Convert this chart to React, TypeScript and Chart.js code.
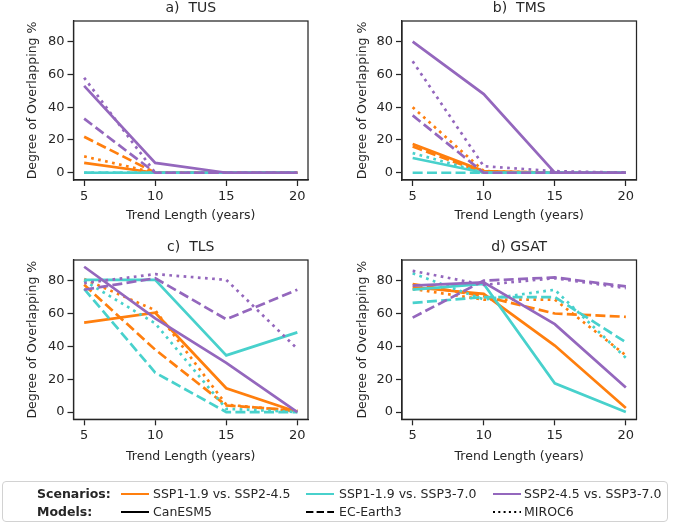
import React, { useEffect, useRef } from "react";
import { Chart, registerables } from "chart.js";

Chart.register(...registerables);

// ---- data ----
const trendLengths = [5, 10, 15, 20];
const yTickValues = [0, 20, 40, 60, 80];
const scenarioLabels = ["SSP1-1.9 vs. SSP2-4.5", "SSP1-1.9 vs. SSP3-7.0", "SSP2-4.5 vs. SSP3-7.0"];
const modelLabels = ["CanESM5", "EC-Earth3", "MIROC6"];
const scenarioColors = ["#ff7f0e", "#48d1cc", "#9467bd"];

// each row: CanESM5, EC-Earth3, MIROC6 (values at 5, 10, 15, 20 years)
const tusSsp119vs245 = [[6, 0, 0, 0], [22, 0, 0, 0], [10, 0, 0, 0]];
const tusSsp119vs370 = [[0, 0, 0, 0], [0, 0, 0, 0], [0, 0, 0, 0]];
const tusSsp245vs370 = [[53, 6, 0, 0], [33, 0, 0, 0], [58, 0, 0, 0]];

const tmsSsp119vs245 = [[17.5, 1, 0, 0], [16, 0, 0, 0], [40, 1, 0, 0]];
const tmsSsp119vs370 = [[9, 0, 0, 0], [0, 0, 0, 0], [12, 0, 0, 0]];
const tmsSsp245vs370 = [[80, 48, 0, 0], [35, 0, 0, 0], [68, 4, 1, 0]];

const tlsSsp119vs245 = [[54.5, 60.5, 14.5, 0], [77.5, 38, 4, 1], [81, 62, 4.5, 0.5]];
const tlsSsp119vs370 = [[80.5, 80.5, 34.5, 48.5], [75, 24, 0, 0], [80, 54, 2, 0]];
const tlsSsp245vs370 = [[88.5, 57, 30, 0], [74.5, 81.5, 56.5, 74.5], [78.5, 84, 80.5, 38.5]];

const gsatSsp119vs245 = [[76, 72, 40.5, 2.5], [78, 70.5, 60, 58], [75, 68.5, 68.5, 34.5]];
const gsatSsp119vs370 = [[74.5, 78, 17.5, 0], [66.5, 70, 70, 42.5], [84.5, 68.5, 74.5, 33]];
const gsatSsp245vs370 = [[77, 79, 53.5, 15], [57.5, 80, 82, 76.5], [86, 77.5, 81.5, 75.5]];

// ---- styling ----
const FONT = "DejaVu Sans";
const INK = "#262626";
const LINE_W = 2.7;
const modelDashes = [[], [10, 4.3], [2.7, 4.45]];
const legendDashes = [[], [7.4, 3.2], [2, 3.3]];

const framePlugin = {
  id: "axesFrame",
  afterDatasetsDraw(chart: any) {
    const { ctx, chartArea } = chart;
    const { left, top, right, bottom } = chartArea;
    ctx.save();
    ctx.strokeStyle = INK;
    ctx.lineWidth = 1.25;
    ctx.strokeRect(left, top, right - left, bottom - top);
    ctx.restore();
  },
};

type PanelCfg = {
  title: string;
  series: number[][][];
  top: number;
  height: number;
  padLeft: number;
  yWidth: number;
  padRight: number;
  yTitlePad: number;
  xHeight: number;
  xTitlePad: number;
};

const panels: PanelCfg[] = [
  { title: "a)  TUS", series: [tusSsp119vs245, tusSsp119vs370, tusSsp245vs370], top: 0, height: 225, padLeft: 0, yWidth: 73.5, padRight: 367, yTitlePad: 25.5, xHeight: 45, xTitlePad: 1.5 },
  { title: "b)  TMS", series: [tmsSsp119vs245, tmsSsp119vs370, tmsSsp245vs370], top: 0, height: 225, padLeft: 337, yWidth: 65, padRight: 38.5, yTitlePad: 18.5, xHeight: 45, xTitlePad: 1.5 },
  { title: "c)  TLS", series: [tlsSsp119vs245, tlsSsp119vs370, tlsSsp245vs370], top: 239, height: 228, padLeft: 0, yWidth: 73.5, padRight: 367, yTitlePad: 25.5, xHeight: 47.7, xTitlePad: 2.5 },
  { title: "d) GSAT", series: [gsatSsp119vs245, gsatSsp119vs370, gsatSsp245vs370], top: 239, height: 228, padLeft: 337, yWidth: 65, padRight: 38.5, yTitlePad: 18.5, xHeight: 47.7, xTitlePad: 2.5 },
];

function buildDatasets(series: number[][][]) {
  const list: any[] = [];
  series.forEach((byModel, s) => {
    byModel.forEach((values, m) => {
      list.push({
        label: `${scenarioLabels[s]} ${modelLabels[m]}`,
        data: trendLengths.map((x, i) => ({ x, y: values[i] })),
        borderColor: scenarioColors[s],
        backgroundColor: scenarioColors[s],
        borderWidth: LINE_W,
        borderDash: modelDashes[m],
        borderCapStyle: "butt",
        pointRadius: 0,
        tension: 0,
        fill: false,
      });
    });
  });
  // first dataset is painted last in Chart.js, so reverse to keep later series on top
  return list.reverse();
}

function Panel({ cfg }: { cfg: PanelCfg }) {
  const ref = useRef<HTMLCanvasElement | null>(null);
  useEffect(() => {
    if (!ref.current) return;
    const tickFont = { family: FONT, size: 13 };
    const labelFont = { family: FONT, size: 12.5, lineHeight: 1.2 };
    const chart = new Chart(ref.current, {
      type: "line",
      data: { datasets: buildDatasets(cfg.series) },
      options: {
        animation: false,
        responsive: false,
        devicePixelRatio: 1,
        events: [],
        layout: { padding: { left: cfg.padLeft, right: cfg.padRight, top: 0, bottom: 0 } },
        plugins: {
          legend: { display: false },
          tooltip: { enabled: false },
          title: {
            display: true,
            text: cfg.title,
            fullSize: false,
            color: INK,
            font: { family: FONT, size: 14, weight: "normal", lineHeight: 1.2 },
            padding: { top: 0, bottom: 4.2 },
          },
        },
        scales: {
          x: {
            type: "linear",
            min: 4.25,
            max: 20.75,
            afterBuildTicks: (s: any) => {
              s.ticks = trendLengths.map((v) => ({ value: v }));
            },
            afterFit: (s: any) => {
              s.height = cfg.xHeight;
            },
            ticks: { color: INK, font: tickFont, padding: 3, maxRotation: 0, autoSkip: false },
            grid: { drawOnChartArea: false, drawTicks: true, tickLength: 6, tickWidth: 1.25, tickColor: INK },
            border: { display: true, color: INK, width: 1.25 },
            title: { display: true, text: "Trend Length (years)", color: INK, font: labelFont, padding: { top: 0, bottom: cfg.xTitlePad } },
          },
          y: {
            type: "linear",
            min: -4.42,
            max: 92.6,
            afterBuildTicks: (s: any) => {
              s.ticks = yTickValues.map((v) => ({ value: v }));
            },
            afterFit: (s: any) => {
              s.width = cfg.yWidth;
            },
            ticks: { color: INK, font: tickFont, padding: 3 },
            grid: { drawOnChartArea: false, drawTicks: true, tickLength: 6, tickWidth: 1.25, tickColor: INK },
            border: { display: true, color: INK, width: 1.25 },
            title: { display: true, text: "Degree of Overlapping %", color: INK, font: labelFont, padding: { top: cfg.yTitlePad, bottom: 0 } },
          },
        },
      } as any,
      plugins: [framePlugin],
    });
    return () => chart.destroy();
  }, [cfg]);
  return (
    <canvas
      ref={ref}
      width={675}
      height={cfg.height}
      style={{ position: "absolute", left: 0, top: cfg.top, width: 675, height: cfg.height }}
    />
  );
}

function LegendLine({ x, y, color, dash }: { x: number; y: number; color: string; dash: number[] }) {
  return (
    <svg style={{ position: "absolute", left: x, top: y - 4 }} width={28} height={8}>
      <line x1={0} y1={4} x2={28} y2={4} stroke={color} strokeWidth={2} strokeDasharray={dash.length ? dash.join(" ") : undefined} />
    </svg>
  );
}

function LegendText({ x, y, text, bold }: { x: number; y: number; text: string; bold?: boolean }) {
  return (
    <div
      style={{
        position: "absolute",
        left: x,
        top: y - 7.8,
        height: 16,
        lineHeight: "16px",
        fontFamily: FONT,
        fontSize: 12.5,
        fontWeight: bold ? "bold" : "normal",
        color: INK,
        whiteSpace: "pre",
      }}
    >
      {text}
    </div>
  );
}

const legendColumns = [
  { lineX: 121, textX: 153 },
  { lineX: 306, textX: 339 },
  { lineX: 493, textX: 524 },
];
const legendRows = [493.5, 511.5];

export default function App() {
  return (
    <div style={{ position: "absolute", left: 0, top: 0, width: 675, height: 525, background: "#ffffff", overflow: "hidden" }}>
      {panels.map((p) => (
        <Panel key={p.title} cfg={p} />
      ))}
      <div
        style={{
          position: "absolute",
          left: 2,
          top: 481,
          width: 666,
          height: 41,
          border: "1px solid #d2d2d2",
          borderRadius: 4,
          boxSizing: "border-box",
        }}
      />
      <LegendText x={37} y={legendRows[0]} text="Scenarios:" bold />
      <LegendText x={37} y={legendRows[1]} text="Models:" bold />
      {legendColumns.map((c, i) => (
        <React.Fragment key={i}>
          <LegendLine x={c.lineX} y={legendRows[0]} color={scenarioColors[i]} dash={[]} />
          <LegendText x={c.textX} y={legendRows[0]} text={scenarioLabels[i]} />
          <LegendLine x={c.lineX} y={legendRows[1]} color="#000000" dash={legendDashes[i]} />
          <LegendText x={c.textX} y={legendRows[1]} text={modelLabels[i]} />
        </React.Fragment>
      ))}
    </div>
  );
}
